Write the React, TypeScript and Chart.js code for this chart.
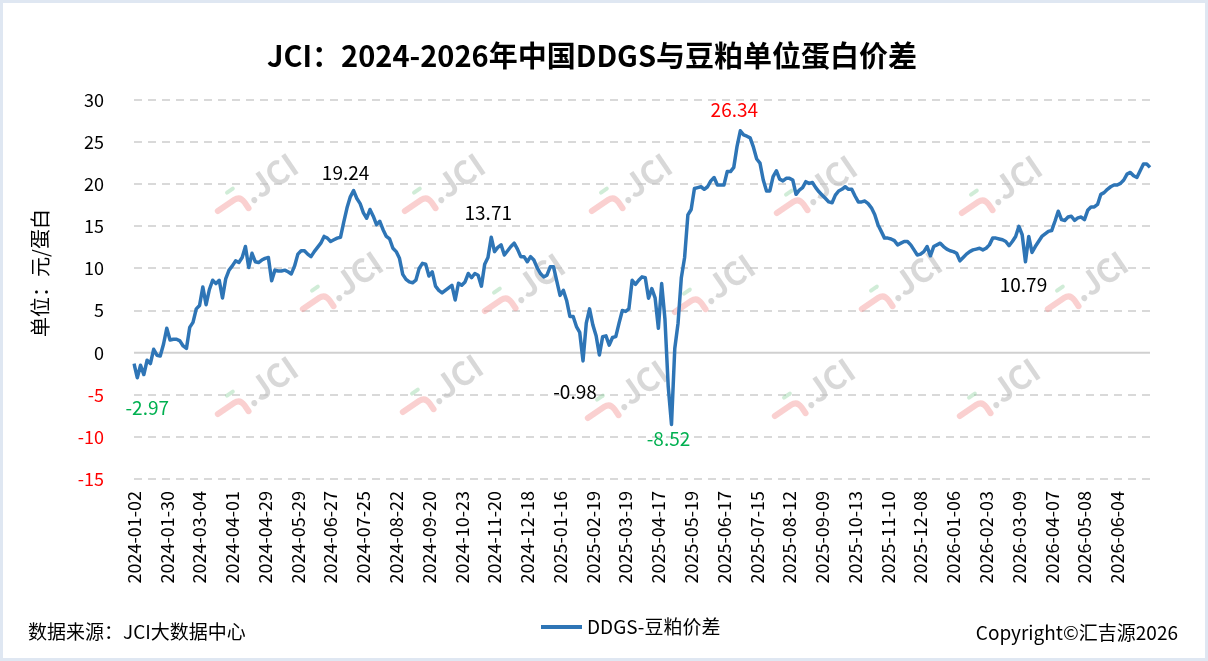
import React, { useEffect, useRef } from 'react';
import { Chart, registerables } from 'chart.js';

Chart.register(...registerables);

const FONT = "'Noto Sans CJK SC', 'Noto Sans', sans-serif";

// one date label every 10 points
const tickDates = [
  '2024-01-02', '2024-01-30', '2024-03-04', '2024-04-01', '2024-04-29', '2024-05-29',
  '2024-06-27', '2024-07-25', '2024-08-22', '2024-09-20', '2024-10-23', '2024-11-20',
  '2024-12-18', '2025-01-16', '2025-02-19', '2025-03-19', '2025-04-17', '2025-05-19',
  '2025-06-17', '2025-07-15', '2025-08-12', '2025-09-09', '2025-10-13', '2025-11-10',
  '2025-12-08', '2026-01-06', '2026-02-03', '2026-03-09', '2026-04-07', '2026-05-08',
  '2026-06-04',
];

const spreadValues = [
  -1.3, -2.97, -1.5, -2.6, -0.9, -1.3, 0.4, -0.3, -0.4, 1.0,
  2.9, 1.5, 1.6, 1.6, 1.4, 0.8, 0.5, 3.0, 3.6, 5.2,
  5.6, 7.8, 5.7, 7.5, 8.6, 8.2, 8.6, 6.5, 8.8, 9.8,
  10.3, 10.9, 10.7, 11.3, 12.6, 10.1, 11.8, 10.8, 10.7, 11.0,
  11.2, 11.3, 8.55, 9.8, 9.7, 9.7, 9.8, 9.6, 9.35, 10.3,
  11.7, 12.1, 12.1, 11.7, 11.4, 12.0, 12.5, 13.0, 13.8, 13.6,
  13.2, 13.4, 13.6, 13.7, 15.5, 17.2, 18.5, 19.24, 18.3, 17.7,
  16.6, 15.96, 17.0, 16.2, 15.2, 15.6, 14.6, 13.8, 13.5, 12.4,
  12.0, 11.2, 9.3, 8.7, 8.4, 8.3, 8.6, 10.0, 10.6, 10.5,
  9.1, 9.6, 7.9, 7.4, 7.1, 7.4, 7.7, 8.0, 6.26, 8.24,
  8.0, 8.4, 9.4, 8.9, 9.4, 9.2, 7.9, 10.5, 11.3, 13.71,
  12.0, 12.5, 12.8, 11.6, 12.1, 12.6, 13.0, 12.3, 11.4, 11.4,
  10.8, 11.4, 11.0, 10.1, 9.4, 9.0, 9.2, 10.2, 10.2, 8.5,
  6.8, 7.4, 6.2, 4.3, 4.3, 3.1, 2.4, -0.98, 3.5, 5.2,
  3.3, 2.0, -0.27, 1.9, 2.0, 0.9, 1.8, 1.9, 3.5, 5.0,
  4.9, 5.2, 8.6, 8.1, 8.6, 9.0, 8.9, 6.46, 7.6, 6.5,
  2.9, 8.2, 4.0, -4.0, -8.52, 0.5, 3.5, 8.9, 11.3, 16.35,
  17.0, 19.5, 19.6, 19.7, 19.4, 19.7, 20.4, 20.8, 19.9, 19.9,
  19.9, 21.5, 21.5, 22.0, 24.5, 26.34, 25.85, 25.7, 25.5, 24.4,
  23.0, 22.5, 20.5, 19.2, 19.2, 20.9, 21.6, 20.6, 20.4, 20.7,
  20.7, 20.5, 18.8, 19.3, 19.6, 20.3, 20.1, 20.2, 19.6, 19.1,
  18.7, 18.3, 17.9, 17.8, 18.7, 19.2, 19.4, 19.7, 19.4, 19.4,
  18.6, 17.9, 17.9, 18.0, 17.7, 17.2, 16.4, 15.2, 14.4, 13.6,
  13.6, 13.5, 13.3, 12.8, 13.0, 13.2, 13.2, 12.8, 12.2, 11.6,
  11.7, 12.0, 12.6, 11.5, 12.6, 12.8, 13.0, 12.6, 12.3, 12.1,
  12.0, 11.8, 10.9, 11.3, 11.7, 12.0, 12.2, 12.3, 12.4, 12.2,
  12.4, 12.8, 13.6, 13.6, 13.5, 13.4, 13.2, 12.7, 13.2, 13.8,
  15.0, 14.0, 10.79, 13.8, 11.9, 12.6, 13.2, 13.8, 14.1, 14.4,
  14.5, 15.6, 16.8, 15.8, 15.7, 16.1, 16.2, 15.7, 16.0, 16.1,
  15.8, 16.9, 17.3, 17.3, 17.6, 18.8, 19.0, 19.4, 19.7, 19.9,
  19.9, 20.1, 20.5, 21.2, 21.4, 21.0, 20.8, 21.6, 22.4, 22.4,
  22.0,
];

const labels = spreadValues.map((_, i) => (i % 10 === 0 && tickDates[i / 10]) ? tickDates[i / 10] : '');

// labelled extremes: point index, colour, label offset
const marks = [
  { index: 1, color: '#00b050', dx: 10, dy: 30 },
  { index: 67, color: '#000000', dx: -8, dy: -18 },
  { index: 109, color: '#000000', dx: -3, dy: -24 },
  { index: 137, color: '#000000', dx: -8, dy: 31 },
  { index: 164, color: '#00b050', dx: -3, dy: 14 },
  { index: 185, color: '#ff0000', dx: -6, dy: -21 },
  { index: 272, color: '#000000', dx: -2, dy: 23 },
];

const watermarks = [
  [263, 185], [450, 185], [637, 185], [822, 187], [1007, 187],
  [348, 283], [530, 285], [720, 286], [907, 283], [1093, 283],
  [263, 388], [448, 386], [633, 392], [820, 390], [1005, 390],
];

const decorPlugin = {
  id: 'decor',
  beforeDraw(chart: any) {
    const { ctx, width, height } = chart;
    ctx.save();
    ctx.fillStyle = '#ffffff';
    ctx.fillRect(0, 0, width, height);
    ctx.restore();
  },
  beforeDatasetsDraw(chart: any) {
    const { ctx, scales } = chart;
    ctx.save();
    // solid zero line
    const y0 = scales.y.getPixelForValue(0);
    ctx.strokeStyle = '#d0d0d0';
    ctx.lineWidth = 2;
    ctx.beginPath();
    ctx.moveTo(chart.chartArea.left, y0);
    ctx.lineTo(chart.chartArea.right, y0);
    ctx.stroke();

    // JCI watermarks
    watermarks.forEach(([wx, wy]) => {
      ctx.save();
      ctx.translate(wx, wy);
      ctx.rotate(-0.6);
      ctx.lineCap = 'round';
      ctx.strokeStyle = 'rgba(244, 150, 150, 0.45)';
      ctx.lineWidth = 6;
      ctx.beginPath();
      ctx.moveTo(-52, -4);
      ctx.lineTo(-32, -4);
      ctx.quadraticCurveTo(-25, -4, -25, 4);
      ctx.lineTo(-25, 11);
      ctx.stroke();
      ctx.strokeStyle = 'rgba(120, 200, 140, 0.35)';
      ctx.lineWidth = 4;
      ctx.beginPath();
      ctx.moveTo(-34, -14);
      ctx.lineTo(-27, -14);
      ctx.stroke();
      ctx.fillStyle = 'rgba(190, 190, 190, 0.6)';
      ctx.font = `bold 32px ${FONT}`;
      ctx.textBaseline = 'middle';
      ctx.textAlign = 'left';
      ctx.fillText('.JCI', -21, -2);
      ctx.restore();
    });
    ctx.restore();
  },
  afterDatasetsDraw(chart: any) {
    const { ctx, scales } = chart;
    ctx.save();
    ctx.font = `19px ${FONT}`;
    ctx.textAlign = 'center';
    ctx.textBaseline = 'middle';
    marks.forEach((m) => {
      const v = spreadValues[m.index];
      const x = scales.x.getPixelForValue(m.index);
      const y = scales.y.getPixelForValue(v);
      ctx.fillStyle = m.color;
      ctx.fillText(v.toFixed(2), x + m.dx, y + m.dy);
    });
    ctx.restore();
  },
  afterDraw(chart: any) {
    const { ctx, width, height } = chart;
    ctx.save();
    ctx.fillStyle = '#000000';
    ctx.textBaseline = 'middle';

    ctx.font = `bold 29px ${FONT}`;
    ctx.textAlign = 'center';
    ctx.fillText('JCI：2024-2026年中国DDGS与豆粕单位蛋白价差', 592, 56);

    ctx.save();
    ctx.translate(40, 273);
    ctx.rotate(-Math.PI / 2);
    ctx.font = `20px ${FONT}`;
    ctx.fillText('单位：元/蛋白', 0, 0);
    ctx.restore();

    ctx.font = `19px ${FONT}`;
    ctx.textAlign = 'left';
    ctx.fillText('数据来源：JCI大数据中心', 28, 632);
    ctx.textAlign = 'right';
    ctx.fillText('Copyright©汇吉源2026', 1178, 633);

    // legend
    const ds = chart.data.datasets[0];
    ctx.strokeStyle = ds.borderColor;
    ctx.lineWidth = 4;
    ctx.beginPath();
    ctx.moveTo(541, 627);
    ctx.lineTo(582, 627);
    ctx.stroke();
    ctx.textAlign = 'left';
    ctx.fillText(ds.label, 587, 627);

    ctx.strokeStyle = '#dfe7f2';
    ctx.lineWidth = 3;
    ctx.strokeRect(1.5, 1.5, width - 3, height - 3);
    ctx.restore();
  },
};

export default function App() {
  const canvasRef = useRef<HTMLCanvasElement | null>(null);

  useEffect(() => {
    if (!canvasRef.current) return;
    const chart = new Chart(canvasRef.current, {
      type: 'line',
      data: {
        labels,
        datasets: [
          {
            label: 'DDGS-豆粕价差',
            data: spreadValues,
            borderColor: '#2e75b6',
            backgroundColor: '#2e75b6',
            borderWidth: 3.5,
            pointRadius: 0,
            tension: 0,
            borderJoinStyle: 'round',
          },
        ],
      },
      options: {
        animation: false,
        responsive: true,
        maintainAspectRatio: false,
        layout: { padding: { top: 100, right: 58, bottom: 0, left: 0 } },
        plugins: {
          legend: { display: false },
          title: { display: false },
          tooltip: { enabled: false },
        },
        scales: {
          x: {
            type: 'category',
            grid: { display: false, drawTicks: false },
            border: { display: false },
            ticks: {
              autoSkip: false,
              minRotation: 90,
              maxRotation: 90,
              padding: 12,
              color: '#000000',
              font: { size: 18, family: FONT },
            },
            afterFit: (scale: any) => {
              scale.height = 182;
            },
          },
          y: {
            min: -15,
            max: 30,
            ticks: {
              stepSize: 5,
              padding: 30,
              color: (c: any) => (c.tick.value < 0 ? '#ff0000' : '#000000'),
              font: { size: 18, family: FONT },
            },
            grid: {
              color: (c: any) => (c.tick.value === 0 ? 'rgba(0,0,0,0)' : '#d9d9d9'),
              lineWidth: 2,
              drawTicks: false,
            },
            border: { display: false, dash: [8, 6] },
            afterFit: (scale: any) => {
              scale.width = 134;
            },
          },
        },
      },
      plugins: [decorPlugin],
    });
    return () => chart.destroy();
  }, []);

  return (
    <div style={{ position: 'absolute', left: 0, top: 0, width: 1208, height: 661 }}>
      <canvas ref={canvasRef} />
    </div>
  );
}
